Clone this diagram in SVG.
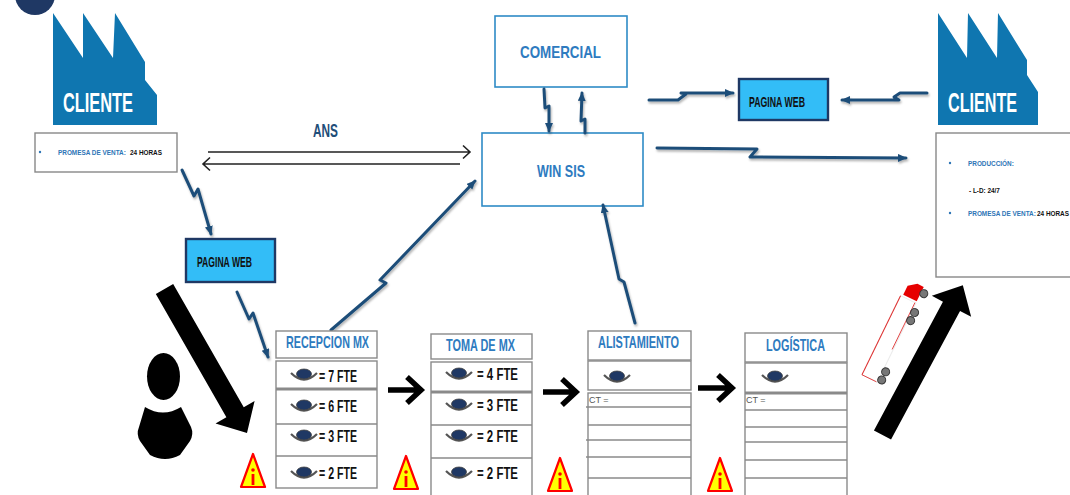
<svg xmlns="http://www.w3.org/2000/svg" width="1070" height="495" viewBox="0 0 1070 495">
  <style>
    .cond { font-family: "Liberation Sans", Arial, sans-serif; font-weight: bold; }
    .hdr { fill: #2e7bbf; font-size: 17px; }
    .fte { fill: #111; font-size: 16px; }
    .tiny { font-family: "Liberation Sans", Arial, sans-serif; font-weight: bold; font-size: 6.4px; }
    .blue { fill: #2e75b6; }
    .dark { fill: #111; }
    .box { fill: #fff; stroke: #2e8bc6; stroke-width: 1.6; }
    .cell { fill: #fff; stroke: #8a8a8a; stroke-width: 1.4; }
    .rule { stroke: #8a8a8a; stroke-width: 1.4; }
    .thick { stroke: #8a8a8a; stroke-width: 3; }
    .web { fill: #33bdf7; stroke: #1f3864; stroke-width: 2.4; }
    .factory { fill: #0f76b0; }
    .bolt { fill: none; stroke: #1f4e79; stroke-width: 3; stroke-linejoin: round; stroke-linecap: round; marker-end: url(#bolthead); }
    .ans { fill: none; stroke: #222; stroke-width: 1.6; }
    .flow { fill: none; stroke: #000; stroke-width: 5.5; }
    .warn { fill: #ffff00; stroke: #ff0000; stroke-width: 2.2; stroke-linejoin: round; }
    .wheel { fill: #777; stroke: #333; stroke-width: 1; }
  </style>
  <defs>
    <marker id="bolthead" markerUnits="userSpaceOnUse" markerWidth="12" markerHeight="10" refX="8" refY="4" orient="auto">
      <path d="M0,0 L9,4 L0,8 z" fill="#1f4e79"/>
    </marker>
    <filter id="soft" x="-10%" y="-10%" width="130%" height="130%">
      <feDropShadow dx="1" dy="2" stdDeviation="1.2" flood-color="#000" flood-opacity="0.3"/>
    </filter>
    <!-- operator symbol: head seen from above with shoulders -->
    <g id="operator">
      <path d="M-13,-2 Q0,11 13,-2" fill="none" stroke="#555" stroke-width="2.2"/>
      <ellipse cx="0" cy="-1" rx="7.5" ry="5" fill="#1f3864" stroke="#444" stroke-width="0.8"/>
    </g>
    <!-- warning sign -->
    <g id="warning">
      <path d="M0,0 L12,33 L-12,33 Z" class="warn"/>
      <circle cx="0" cy="16" r="1.8" fill="#ff0000"/>
      <rect x="-1.4" y="20" width="2.8" height="11" fill="#ff0000"/>
    </g>
  </defs>

  <rect width="1070" height="495" fill="#fff"/>

  <!-- corner badge -->
  <circle cx="35" cy="-5" r="20" fill="#1f3864"/>

  <!-- left customer -->
  <g id="cliente-left">
    <path class="factory" d="M53,125 L53,13 L83,58 L83,13 L113,58 L115,13 L145,62 L145,80 L157,95 L157,125 Z"/>
    <text class="cond" x="63" y="112" font-size="27" fill="#fff" textLength="70" lengthAdjust="spacingAndGlyphs">CLIENTE</text>
  </g>
  <g id="cliente-left-info">
    <rect x="35" y="133" width="142" height="39" fill="#fff" stroke="#888" stroke-width="1.4"/>
    <circle cx="40" cy="152" r="1.2" fill="#2e75b6"/>
    <text class="tiny blue" x="58" y="155">PROMESA DE VENTA:</text>
    <text class="tiny dark" x="130" y="155">24 HORAS</text>
  </g>

  <!-- right customer -->
  <g id="cliente-right">
    <path class="factory" d="M938,125 L938,13 L967,58 L968,13 L997,58 L998,13 L1027,60 L1027,75 L1038,92 L1038,125 Z"/>
    <text class="cond" x="948" y="112" font-size="27" fill="#fff" textLength="69" lengthAdjust="spacingAndGlyphs">CLIENTE</text>
  </g>
  <g id="cliente-right-info">
    <rect x="936" y="133" width="150" height="144" fill="#fff" stroke="#888" stroke-width="1.4"/>
    <circle cx="950" cy="163" r="1.2" fill="#2e75b6"/>
    <text class="tiny blue" x="968" y="166">PRODUCCIÓN:</text>
    <text class="tiny dark" x="969" y="193">-  L-D: 24/7</text>
    <circle cx="950" cy="213" r="1.2" fill="#2e75b6"/>
    <text class="tiny blue" x="968" y="216">PROMESA DE VENTA:</text>
    <text class="tiny dark" x="1037" y="216">24 HORAS</text>
  </g>

  <!-- information systems -->
  <g id="comercial">
    <rect class="box" x="495" y="16" width="132" height="71"/>
    <text class="cond hdr" x="520" y="58" font-size="20" textLength="81" lengthAdjust="spacingAndGlyphs">COMERCIAL</text>
  </g>
  <g id="winsis">
    <rect class="box" x="482" y="133" width="161" height="73"/>
    <text class="cond hdr" x="537" y="177" font-size="20" textLength="48" lengthAdjust="spacingAndGlyphs">WIN SIS</text>
  </g>
  <g id="pagina-web-top">
    <rect class="web" x="739" y="79" width="89" height="41"/>
    <text class="cond" x="749" y="107" font-size="14" fill="#111" textLength="56" lengthAdjust="spacingAndGlyphs">PAGINA WEB</text>
  </g>
  <g id="pagina-web-left">
    <rect class="web" x="186" y="239" width="89" height="43"/>
    <text class="cond" x="197" y="267" font-size="14" fill="#111" textLength="55" lengthAdjust="spacingAndGlyphs">PAGINA WEB</text>
  </g>

  <!-- ANS label -->
  <text class="cond" x="313" y="137" font-size="19" fill="#1f4e79" textLength="25" lengthAdjust="spacingAndGlyphs">ANS</text>

  <!-- connectors -->
  <g id="connectors">
    <!-- service agreement: two-way open arrows -->
    <path class="ans" d="M208,152 L470,152 M463,145.5 L470,152 L463,158.5"/>
    <path class="ans" d="M460,164 L203,164 M210,157.5 L203,164 L210,170.5"/>

    <!-- electronic information flows -->
    <g filter="url(#soft)">
      <path class="bolt" d="M182,170 L194,196 L198,189 L211,234"/>
      <path class="bolt" d="M237,292 L249,319 L253,313 L268,357"/>
      <path class="bolt" d="M331,330 L386,283 L380,280 L475,181"/>
      <path class="bolt" d="M635,323 L624,282 L619,279 L603,205"/>
      <path class="bolt" d="M544,89 L545,108 L549,106 L549,131"/>
      <path class="bolt" d="M585,133 L585,119 L581,121 L582,93"/>
      <path class="bolt" d="M649,100 L678,100 L686,94 L681,93 L733,93"/>
      <path class="bolt" d="M927,93 L900,93 L894,97 L899,100 L842,100"/>
      <path class="bolt" d="M657,148 L757,149 L750,157 L906,158"/>
    </g>

    <!-- material flow between process steps -->
    <path class="flow" d="M388,390 L419,390 M407,377 L421,390 L407,403"/>
    <path class="flow" d="M543,392 L574,392 M562,379 L576,392 L562,405"/>
    <path class="flow" d="M698,388 L730,388 M718,375 L732,388 L718,401"/>

    <!-- inbound and outbound block arrows -->
    <path d="M0,-10 L142,-10 L142,-22.5 L166,0 L142,22.5 L142,10 L0,10 Z" fill="#000" transform="translate(164.5,289) rotate(60.2)"/>
    <path d="M0,-9.7 L146,-9.7 L146,-22.3 L170,0 L146,22.3 L146,9.7 L0,9.7 Z" fill="#000" transform="translate(882.5,435) rotate(-61.8)"/>
  </g>

  <!-- supplier / operator -->
  <g id="operario">
    <ellipse cx="163.5" cy="376.5" rx="16.5" ry="23.5" fill="#000"/>
    <path d="M145,407 Q163,418 181,407 L191,427 Q194,434 190,441 L180,455 Q165,463 150,455 L140,441 Q136,434 139,427 Z" fill="#000"/>
  </g>

  <!-- delivery truck -->
  <g id="camion" transform="translate(880,388) rotate(-64)">
    <rect x="4" y="-22" width="88" height="17" fill="#fff" stroke="#ececec" stroke-width="1"/>
    <line x1="4" y1="-22" x2="92" y2="-22" stroke="#e03030" stroke-width="1"/>
    <line x1="4" y1="-22" x2="4" y2="-6" stroke="#e03030" stroke-width="0.8"/>
    <line x1="40" y1="-6" x2="92" y2="-6" stroke="#e03030" stroke-width="0.8"/>
    <path d="M94,-20 L104,-20 L110,-12 L110,-5 L94,-5 Z" fill="#e60000"/>
    <circle class="wheel" cx="8" cy="-2" r="4"/>
    <circle class="wheel" cx="17" cy="-2" r="4"/>
    <circle class="wheel" cx="74" cy="-2" r="4"/>
    <circle class="wheel" cx="83" cy="-2" r="4"/>
    <circle class="wheel" cx="104" cy="-2" r="4"/>
  </g>

  <!-- process: reception -->
  <g id="recepcion-mx">
    <rect class="cell" x="276" y="331" width="101" height="27"/>
    <text class="cond hdr" x="286" y="348" font-size="17" textLength="83" lengthAdjust="spacingAndGlyphs">RECEPCION MX</text>
    <rect class="cell" x="276" y="361" width="101" height="127"/>
    <line class="thick" x1="276" y1="389" x2="377" y2="389"/>
    <line class="rule" x1="276" y1="424" x2="377" y2="424"/>
    <line class="rule" x1="276" y1="456" x2="377" y2="456"/>
    <use href="#operator" x="304" y="375"/>
    <text class="cond fte" x="319" y="382" textLength="38" lengthAdjust="spacingAndGlyphs">= 7 FTE</text>
    <use href="#operator" x="304" y="406"/>
    <text class="cond fte" x="319" y="412" textLength="38" lengthAdjust="spacingAndGlyphs">= 6 FTE</text>
    <use href="#operator" x="304" y="436"/>
    <text class="cond fte" x="319" y="442" textLength="38" lengthAdjust="spacingAndGlyphs">= 3 FTE</text>
    <use href="#operator" x="304" y="473"/>
    <text class="cond fte" x="319" y="479" textLength="38" lengthAdjust="spacingAndGlyphs">= 2 FTE</text>
  </g>

  <!-- process: sampling -->
  <g id="toma-de-mx">
    <rect class="cell" x="431" y="334" width="101" height="25"/>
    <text class="cond hdr" x="446" y="351" font-size="17" textLength="69" lengthAdjust="spacingAndGlyphs">TOMA DE MX</text>
    <rect class="cell" x="431" y="362" width="101" height="140"/>
    <line class="thick" x1="431" y1="392" x2="532" y2="392"/>
    <line class="rule" x1="431" y1="425" x2="532" y2="425"/>
    <line class="rule" x1="431" y1="458" x2="532" y2="458"/>
    <use href="#operator" x="459" y="374"/>
    <text class="cond fte" x="477" y="380" textLength="41" lengthAdjust="spacingAndGlyphs">= 4  FTE</text>
    <use href="#operator" x="459" y="405"/>
    <text class="cond fte" x="477" y="411" textLength="41" lengthAdjust="spacingAndGlyphs">= 3  FTE</text>
    <use href="#operator" x="459" y="436"/>
    <text class="cond fte" x="477" y="442" textLength="41" lengthAdjust="spacingAndGlyphs">= 2  FTE</text>
    <use href="#operator" x="459" y="473"/>
    <text class="cond fte" x="477" y="479" textLength="41" lengthAdjust="spacingAndGlyphs">= 2  FTE</text>
  </g>

  <!-- process: picking -->
  <g id="alistamiento">
    <rect class="cell" x="588" y="331" width="103" height="29"/>
    <text class="cond hdr" x="598" y="348" font-size="17" textLength="81" lengthAdjust="spacingAndGlyphs">ALISTAMIENTO</text>
    <rect class="cell" x="588" y="361" width="103" height="29"/>
    <use href="#operator" x="617" y="377"/>
    <rect class="cell" x="588" y="393" width="103" height="110"/>
    <line class="rule" x1="586" y1="407" x2="691" y2="407"/>
    <line class="rule" x1="588" y1="425" x2="691" y2="425"/>
    <line class="rule" x1="586" y1="440" x2="691" y2="440"/>
    <line class="rule" x1="586" y1="457" x2="691" y2="457"/>
    <line class="rule" x1="588" y1="478" x2="691" y2="478"/>
    <text x="589" y="403" font-family="Liberation Sans, Arial, sans-serif" font-size="9" fill="#555">CT =</text>
  </g>

  <!-- process: logistics -->
  <g id="logistica">
    <rect class="cell" x="745" y="333" width="102" height="29"/>
    <text class="cond hdr" x="766" y="351" font-size="17" textLength="59" lengthAdjust="spacingAndGlyphs">LOGÍSTICA</text>
    <rect class="cell" x="745" y="363" width="102" height="139"/>
    <line class="thick" x1="745" y1="393" x2="847" y2="393"/>
    <use href="#operator" x="775" y="377"/>
    <line class="rule" x1="745" y1="410" x2="847" y2="410"/>
    <line class="rule" x1="745" y1="427" x2="847" y2="427"/>
    <line class="rule" x1="745" y1="442" x2="847" y2="442"/>
    <line class="rule" x1="745" y1="460" x2="847" y2="460"/>
    <line class="rule" x1="745" y1="478" x2="847" y2="478"/>
    <text x="746" y="403" font-family="Liberation Sans, Arial, sans-serif" font-size="9" fill="#555">CT =</text>
  </g>

  <!-- waiting / inventory points -->
  <g id="alertas">
    <use href="#warning" x="253" y="454"/>
    <use href="#warning" x="406" y="456"/>
    <use href="#warning" x="560" y="458"/>
    <use href="#warning" x="720" y="458"/>
  </g>
</svg>
